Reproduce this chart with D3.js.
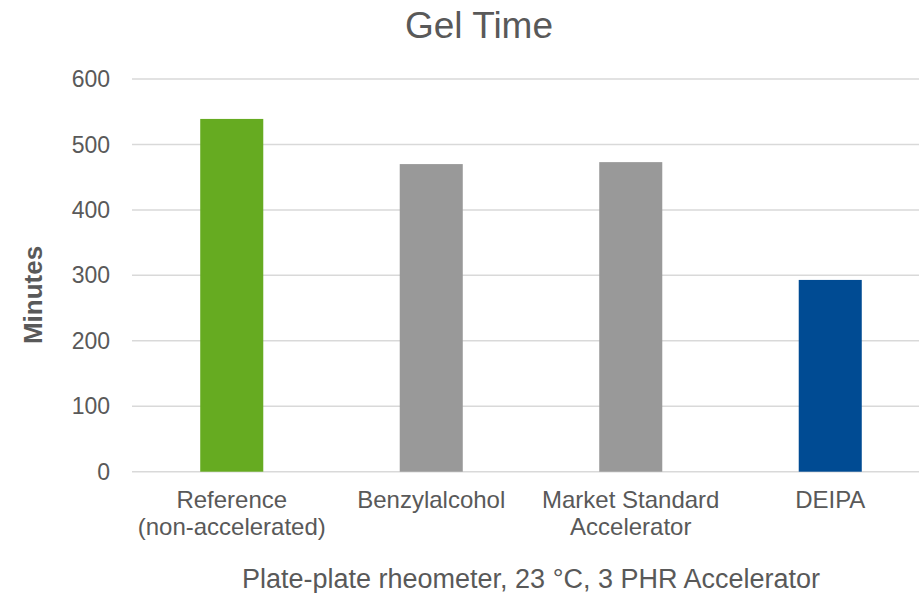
<!DOCTYPE html>
<html>
<head>
<meta charset="utf-8">
<script src="https://cdn.jsdelivr.net/npm/d3@7"></script>
<style>
  html, body { margin: 0; padding: 0; background: #fff; }
  svg { display: block; font-family: "Liberation Sans", Arial, sans-serif; }
</style>
</head>
<body>
<svg id="chart" width="919" height="593"></svg>
<script>
// Gel time per accelerator (minutes)
const categories = [
  ["Reference", "(non-accelerated)"],
  ["Benzylalcohol"],
  ["Market Standard", "Accelerator"],
  ["DEIPA"]
];
const gelMinutes = [539, 470, 473, 293];
const barColors = ["#66ab21", "#999999", "#999999", "#004b93"];
const yTicks = [0, 100, 200, 300, 400, 500, 600];

const chartTitle = "Gel Time";
const xTitle = "Plate-plate rheometer, 23 °C, 3 PHR Accelerator";
const yTitle = "Minutes";

const textColor = "#595959";
const svg = d3.select("#chart");

const x = d3.scaleBand()
  .domain(d3.range(categories.length))
  .range([132, 930])
  .paddingInner(0.684)
  .paddingOuter(0.342);

const y = d3.scaleLinear().domain([0, 600]).range([471.7, 79]);

// horizontal gridlines
svg.append("g")
  .selectAll("line")
  .data(yTicks)
  .join("line")
  .attr("x1", 132).attr("x2", 930)
  .attr("y1", d => y(d)).attr("y2", d => y(d))
  .attr("stroke", "#d9d9d9")
  .attr("stroke-width", 1.5);

// y axis tick labels
svg.append("g")
  .selectAll("text")
  .data(yTicks)
  .join("text")
  .attr("x", 110)
  .attr("y", d => y(d))
  .attr("dy", "0.35em")
  .attr("text-anchor", "end")
  .attr("font-size", 23)
  .attr("fill", textColor)
  .text(d => d);

// bars
svg.append("g")
  .selectAll("rect")
  .data(gelMinutes)
  .join("rect")
  .attr("x", (d, i) => x(i))
  .attr("width", x.bandwidth())
  .attr("y", d => y(d))
  .attr("height", d => y(0) - y(d))
  .attr("fill", (d, i) => barColors[i]);

// category labels
const catG = svg.append("g");
categories.forEach((lines, i) => {
  const t = catG.append("text")
    .attr("x", x(i) + x.bandwidth() / 2)
    .attr("y", 508)
    .attr("text-anchor", "middle")
    .attr("font-size", 24)
    .attr("fill", textColor);
  lines.forEach((ln, j) => {
    t.append("tspan")
      .attr("x", x(i) + x.bandwidth() / 2)
      .attr("dy", j === 0 ? 0 : 27)
      .text(ln);
  });
});

// chart title
svg.append("text")
  .attr("x", 479)
  .attr("y", 37.5)
  .attr("text-anchor", "middle")
  .attr("font-size", 37)
  .attr("fill", textColor)
  .text(chartTitle);

// x axis title
svg.append("text")
  .attr("x", 531)
  .attr("y", 587.5)
  .attr("text-anchor", "middle")
  .attr("font-size", 27)
  .attr("fill", textColor)
  .text(xTitle);

// y axis title
svg.append("text")
  .attr("transform", "translate(42,295) rotate(-90)")
  .attr("text-anchor", "middle")
  .attr("font-size", 26)
  .attr("font-weight", "bold")
  .attr("fill", textColor)
  .text(yTitle);
</script>
</body>
</html>
